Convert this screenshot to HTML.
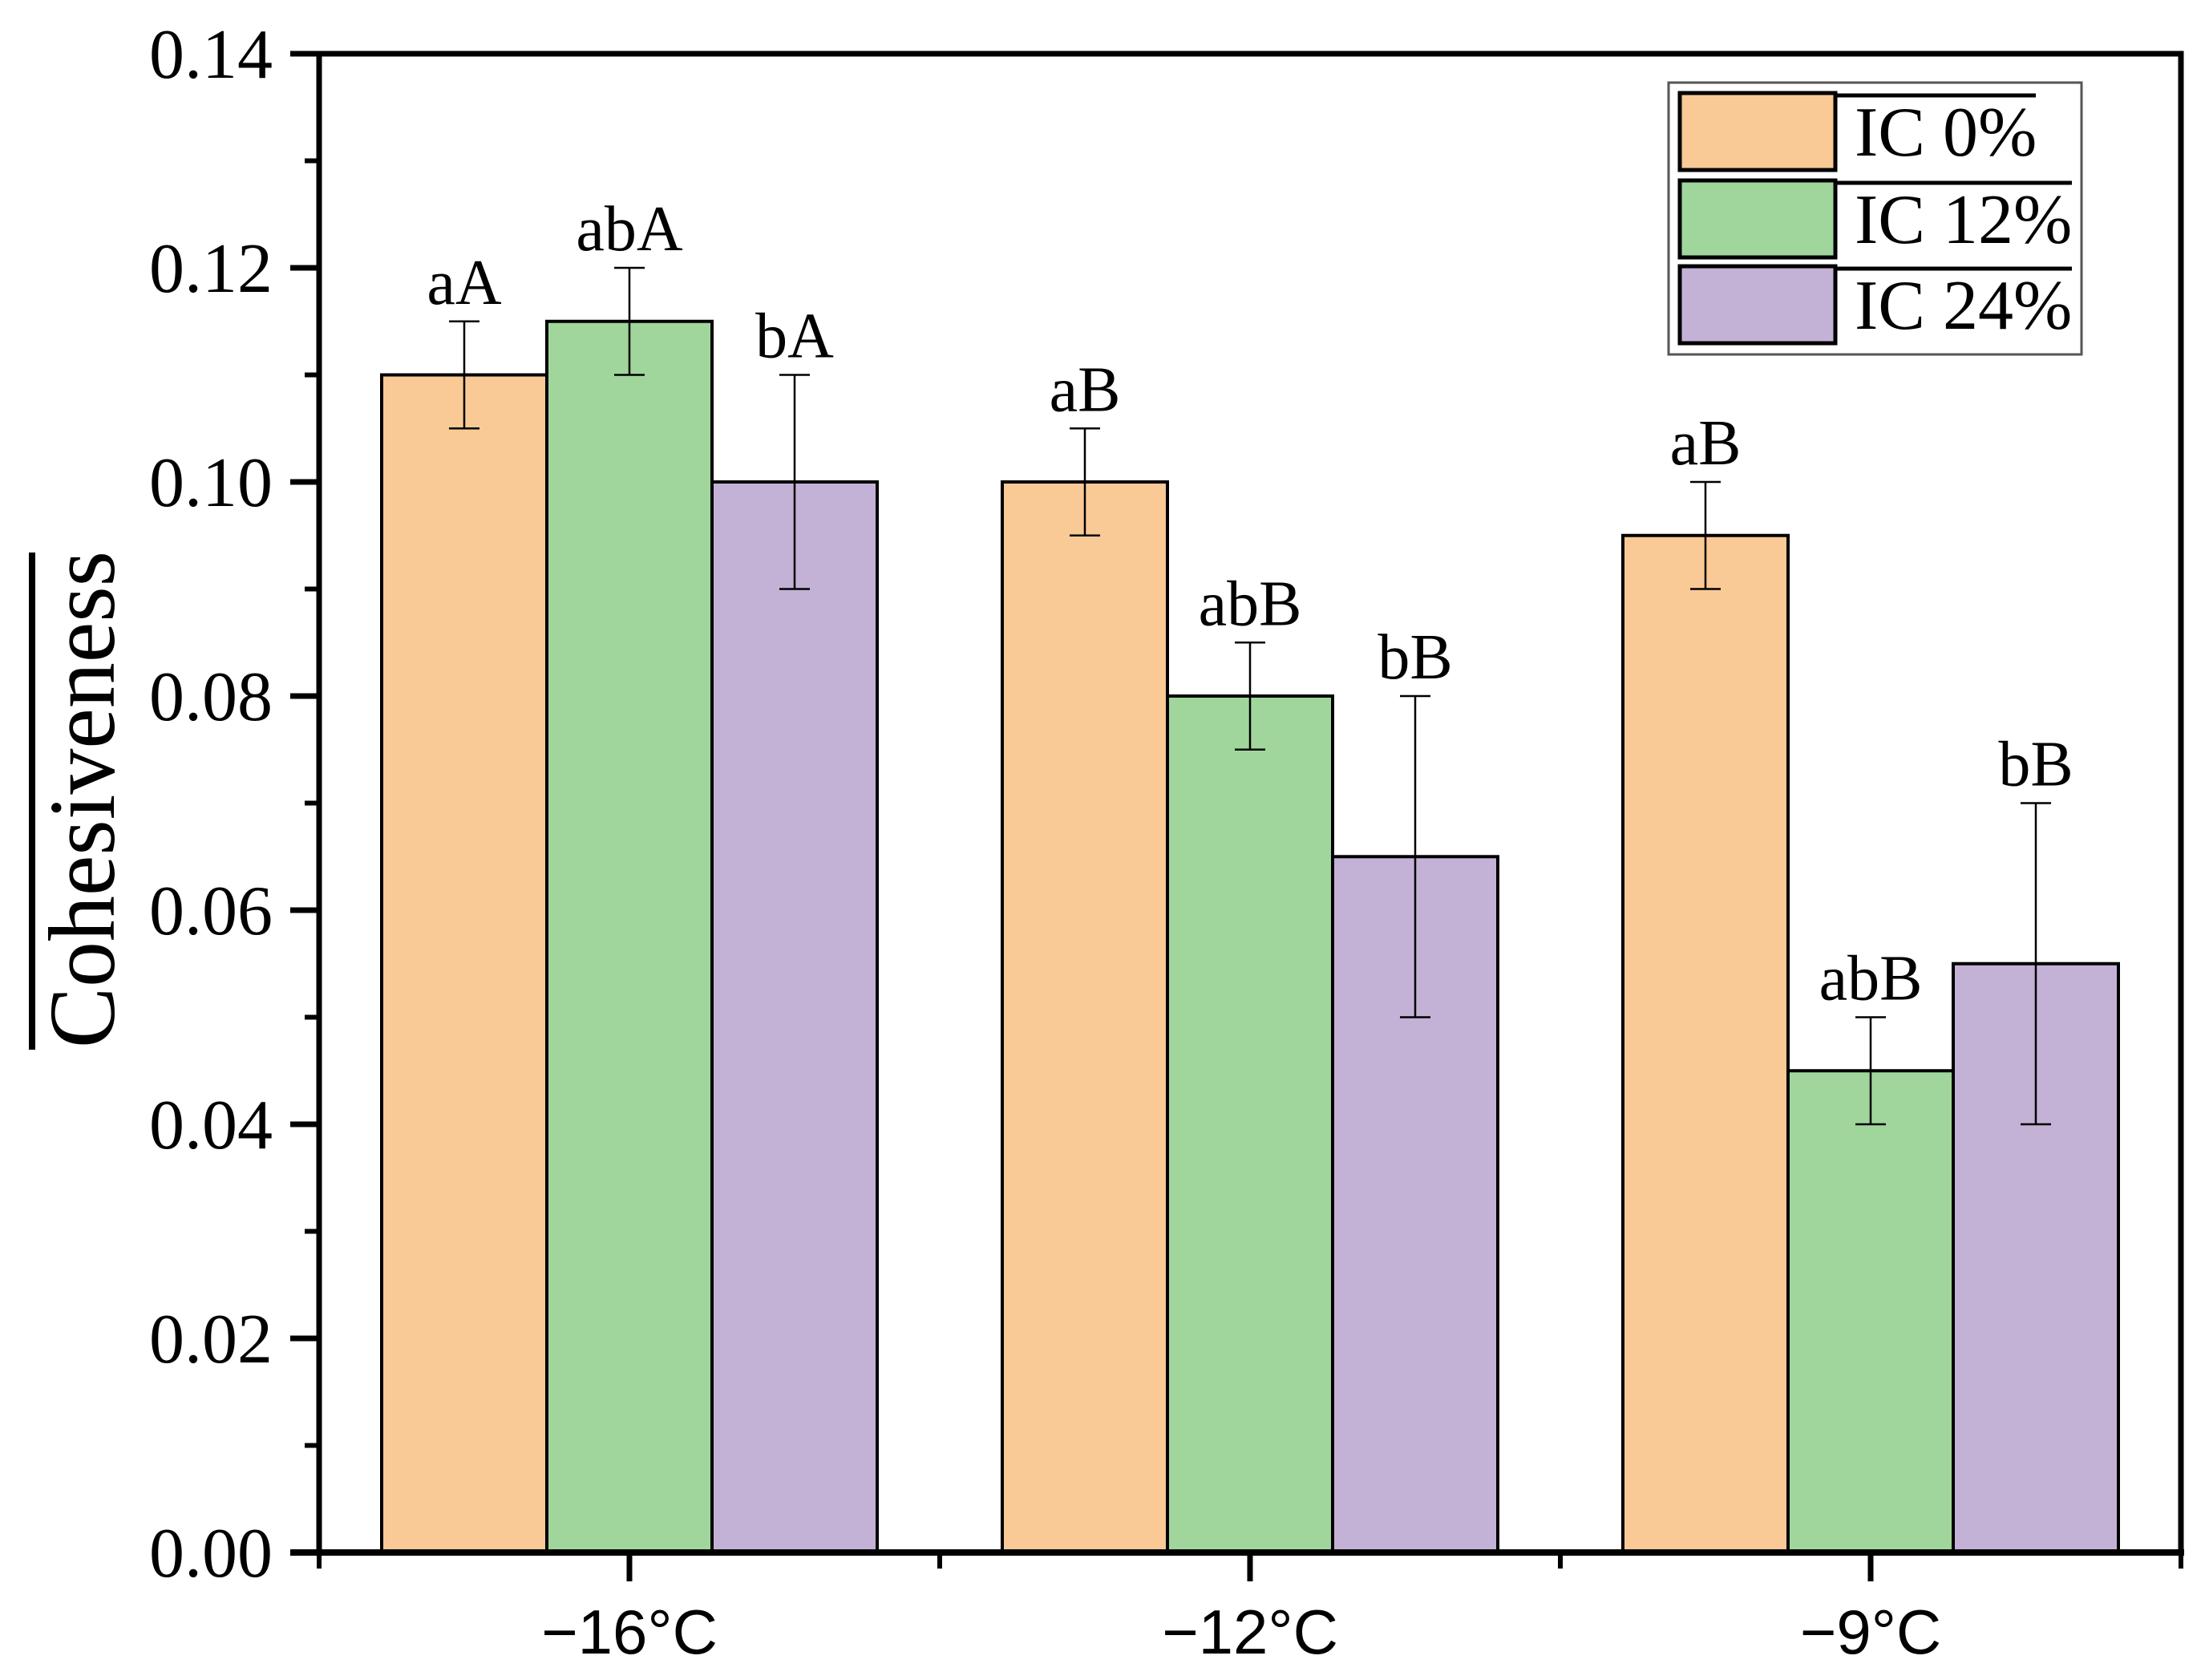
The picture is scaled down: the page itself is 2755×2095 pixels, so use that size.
<!DOCTYPE html>
<html><head><meta charset="utf-8"><style>
html,body{margin:0;padding:0;background:#fff;}
svg{display:block;}
</style></head><body>
<svg id="chart" width="2755" height="2095" viewBox="0 0 2755 2095" xmlns="http://www.w3.org/2000/svg">
<g id="content"></g>
</svg>
<script>
const categories = ["\u221216\u00b0C", "\u221212\u00b0C", "\u22129\u00b0C"];
const seriesNames = ["IC 0%", "IC 12%", "IC 24%"];
const ic0 = [0.110, 0.100, 0.095];
const ic12 = [0.115, 0.080, 0.045];
const ic24 = [0.100, 0.065, 0.055];
const err0 = [0.005, 0.005, 0.005];
const err12 = [0.005, 0.005, 0.005];
const err24 = [0.010, 0.015, 0.015];
const lab0 = ["aA", "aB", "aB"];
const lab12 = ["abA", "abB", "abB"];
const lab24 = ["bA", "bB", "bB"];
const yTicks = ["0.00","0.02","0.04","0.06","0.08","0.10","0.12","0.14"];

const NS = "http://www.w3.org/2000/svg";
const g = document.getElementById("content");
const X0 = 398, X1 = 2720, Y0 = 1936, YT = 67, YMAX = 0.14;
const groupW = (X1 - X0) / categories.length;
const barW = 206;
const colors = ["#F9C996", "#A0D69C", "#C3B1D6"];
const vals = [ic0, ic12, ic24], errs = [err0, err12, err24], labs = [lab0, lab12, lab24];
function y(v){ return Y0 - (v / YMAX) * (Y0 - YT); }
function xc(i){ return X0 + groupW * (i + 0.5); }
function mk(tag, attrs, parent){ const e = document.createElementNS(NS, tag); for (const k in attrs) e.setAttribute(k, attrs[k]); (parent||g).appendChild(e); return e; }
const serif = "'Liberation Serif', serif", sans = "'Liberation Sans', sans-serif";

// bars
for (let s = 0; s < 3; s++) {
  for (let i = 0; i < categories.length; i++) {
    const bx = xc(i) + (s - 1.5) * barW;
    const r = mk("rect", {x: bx, y: y(vals[s][i]), width: barW, height: Y0 - y(vals[s][i]), fill: colors[s], stroke: "#000", "stroke-width": 4});
    
    
  }
}
// error bars + labels
for (let s = 0; s < 3; s++) {
  for (let i = 0; i < categories.length; i++) {
    const cx = xc(i) + (s - 1) * barW;
    const hi = y(vals[s][i] + errs[s][i]), lo = y(vals[s][i] - errs[s][i]);
    const eb = mk("path", {d: `M${cx},${hi}V${lo}M${cx-19},${hi}H${cx+19}M${cx-19},${lo}H${cx+19}`, stroke: "#000", "stroke-width": 2.5, fill: "none"});
    
    
    const t = mk("text", {x: cx, y: hi - 22, "text-anchor": "middle", "font-family": serif, "font-size": 80});
    t.textContent = labs[s][i];
    
    
  }
}
// axes frame
const fr = mk("path", {d: `M${X0},${Y0}V${YT}H${X1}V${Y0}`, stroke: "#000", "stroke-width": 7, fill: "none"});


const xa = mk("line", {x1: X0 - 36, y1: Y0, x2: X1 + 4, y2: Y0, stroke: "#000", "stroke-width": 8});


// y ticks
for (let k = 0; k < yTicks.length; k++) {
  const v = parseFloat(yTicks[k]);
  const tk = mk("line", {x1: X0 - 36, y1: y(v), x2: X0, y2: y(v), stroke: "#000", "stroke-width": 7});
  
  
  const t = mk("text", {x: 340, y: y(v) + 30, "text-anchor": "end", "font-family": serif, "font-size": 88});
  t.textContent = yTicks[k];
  
  
  if (k < yTicks.length - 1) {
    const mv = v + 0.01;
    const mt = mk("line", {x1: X0 - 18, y1: y(mv), x2: X0, y2: y(mv), stroke: "#000", "stroke-width": 6});
    
    
  }
}
// x ticks
for (let i = 0; i <= categories.length; i++) {
  const bx = X0 + groupW * i;
  const mt = mk("line", {x1: bx, y1: Y0, x2: bx, y2: Y0 + 20, stroke: "#000", "stroke-width": 6});
  
  
}
for (let i = 0; i < categories.length; i++) {
  const tk = mk("line", {x1: xc(i), y1: Y0, x2: xc(i), y2: Y0 + 36, stroke: "#000", "stroke-width": 7});
  
  
  const t = mk("text", {x: xc(i), y: 2062, "text-anchor": "middle", "font-family": sans, "font-size": 78});
  t.textContent = categories[i];
  
  
}
// y-axis title
const yt = mk("text", {x: 0, y: 0, transform: "translate(142,997) rotate(-90)", "text-anchor": "middle", "font-family": serif, "font-size": 118, textLength: 620, lengthAdjust: "spacingAndGlyphs"});
yt.textContent = "Cohesiveness";


const ol = mk("line", {x1: 40, y1: 689, x2: 40, y2: 1309, stroke: "#000", "stroke-width": 8});


// legend
const lg = mk("g", {});


const lb = mk("rect", {x: 2081, y: 103, width: 515, height: 339, fill: "#fff", stroke: "#555", "stroke-width": 3}, lg);


const rowTop = [116, 225, 332];
const lineEnd = [2539, 2584, 2584];
for (let s = 0; s < 3; s++) {
  const e = mk("g", {}, lg);
  
  
  mk("rect", {x: 2095, y: rowTop[s], width: 194, height: 96, fill: colors[s], stroke: "#000", "stroke-width": 5}, e);
  mk("line", {x1: 2289, y1: rowTop[s] + 3, x2: lineEnd[s], y2: rowTop[s] + 3, stroke: "#000", "stroke-width": 5}, e);
  const t = mk("text", {x: 2313, y: rowTop[s] + 78, "font-family": serif, "font-size": 88}, e);
  t.textContent = seriesNames[s];
}
</script>
</body></html>
